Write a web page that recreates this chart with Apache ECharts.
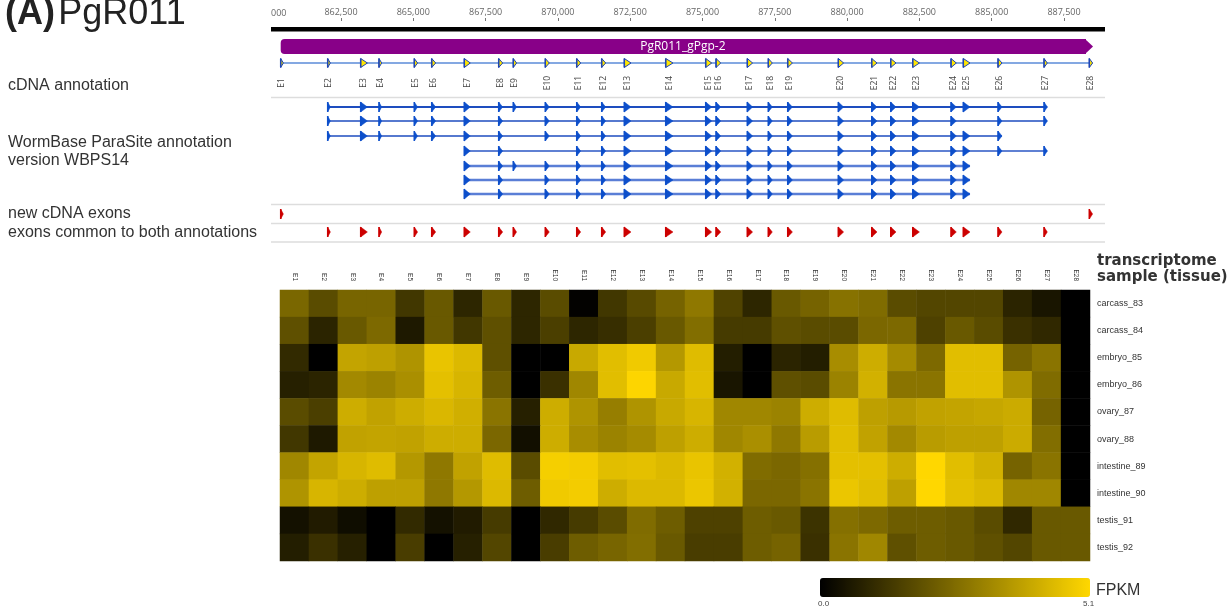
<!DOCTYPE html>
<html><head><meta charset="utf-8">
<script src="https://cdn.jsdelivr.net/npm/echarts@6/dist/echarts.min.js"></script>
<style>html,body{margin:0;padding:0;background:#fff}#c{width:1228px;height:608px}</style>
</head><body><div id="c"></div>
<script>
// ---------- data ----------
const exonNames = ['E1','E2','E3','E4','E5','E6','E7','E8','E9','E10','E11','E12','E13','E14','E15','E16','E17','E18','E19','E20','E21','E22','E23','E24','E25','E26','E27','E28'];
const exonStart = [860415,862040,863181,863814,865035,865637,866764,867953,868458,869565,870651,871515,872297,873728,875111,875468,876550,877276,877947,879697,880852,881509,882270,883594,884019,885219,886810,888376];
const exonEnd   = [860508,862133,863413,863907,865149,865775,866971,868091,868572,869703,870789,871653,872529,873980,875318,875631,876733,877414,878110,879880,881035,881692,882502,883777,884251,885357,886924,888490];
const geneName = 'PgR011_gPgp-2';
const geneStart = 860415, geneEnd = 888504;
const rulerMin = 860080, rulerMax = 888918;
const rulerTicks = [862500,865000,867500,870000,872500,875000,877500,880000,882500,885000,887500];
const transcripts = [
  [2,3,4,5,6,7,8,9,10,11,12,13,14,15,16,17,18,19,20,21,22,23,24,25,26,27],
  [2,3,4,5,6,7,8,10,11,12,13,14,15,16,17,18,19,20,21,22,23,24,26,27],
  [2,3,4,5,6,7,8,10,11,12,13,14,15,16,17,18,19,20,21,22,23,24,25,26],
  [7,8,11,12,13,14,15,16,17,18,19,20,21,22,23,24,25,26,27],
  [7,8,9,10,11,12,13,14,15,16,17,18,19,20,21,22,23,24,25],
  [7,8,10,11,12,13,14,15,16,17,18,19,20,21,22,23,24,25],
  [7,8,10,11,12,13,14,15,16,17,18,19,20,21,22,23,24,25]
];
const newExons = [1,28];
const commonExons = [2,3,4,5,6,7,8,9,10,11,12,13,14,15,16,17,18,19,20,21,22,23,24,25,26,27];
const samples = ['carcass_83','carcass_84','embryo_85','embryo_86','ovary_87','ovary_88','intestine_89','intestine_90','testis_91','testis_92'];
const fpkm = [
  [2.44,1.8,2.4,2.4,1.3,2.1,0.9,2.1,0.9,1.8,0.05,1.3,1.75,2.35,2.85,1.6,0.9,2.1,2.35,2.7,2.55,1.8,1.65,1.65,1.65,0.85,0.5,0],
  [1.9,0.85,2.1,2.5,0.6,2.1,1.3,1.9,0.9,1.5,0.9,1.1,1.5,2.1,2.6,1.4,1.4,1.9,1.8,1.8,2.45,2.5,1.55,2.1,1.8,1.15,0.95,0],
  [1.0,0,3.9,3.8,3.5,4.65,4.4,1.9,0,0,4.0,4.5,4.8,3.6,4.45,0.7,0,0.85,0.7,3.35,4.1,3.3,2.5,4.5,4.5,2.35,2.75,0],
  [0.75,0.85,3.25,3.1,3.4,4.55,4.3,2.2,0,1.15,3.2,4.5,5.05,4.0,4.5,0.5,0,1.9,1.8,3.1,4.2,2.75,2.75,4.5,4.5,3.5,2.55,0],
  [1.8,1.5,4.1,3.85,4.1,4.35,4.15,2.75,0.75,4.1,3.5,3.0,3.5,4.0,4.3,3.2,3.2,3.1,4.1,4.45,3.8,3.65,3.85,3.9,3.95,4.05,2.35,0],
  [1.3,0.6,3.85,3.9,3.85,4.1,4.1,2.45,0.35,4.1,3.35,3.1,3.3,3.8,4.1,3.2,3.4,2.85,3.7,4.5,3.85,3.25,3.7,3.8,3.8,4.05,2.6,0],
  [3.2,3.9,4.3,4.45,3.6,2.85,3.85,4.45,1.8,4.9,4.85,4.5,4.55,4.4,4.65,4.2,2.55,2.45,2.65,4.55,4.55,4.1,5.1,4.5,4.2,2.35,2.75,0],
  [3.5,4.3,4.1,3.8,3.8,2.85,3.6,4.4,2.2,4.8,4.85,4.1,4.4,4.4,4.7,4.2,2.45,2.45,2.75,4.7,4.5,3.8,5.1,4.55,4.4,3.2,3.2,0],
  [0.4,0.65,0.3,0,1.0,0.4,0.65,1.4,0,0.95,1.4,1.8,2.55,2.2,1.55,1.55,2.2,2.1,1.2,2.65,2.5,2.2,2.2,2.1,1.8,0.95,2.1,2.1],
  [0.7,1.15,0.75,0,1.45,0,0.75,1.65,0,1.45,2.2,2.4,2.6,2.1,1.45,1.45,2.2,2.35,1.15,2.75,3.2,1.9,2.2,2.1,1.9,1.65,2.1,2.1]
];
const fpkmMin = 0, fpkmMax = 5.1;

// ---------- layout / style ----------
const ROW_Y = [63,107,121,136,151,166,180,194,214,232];
const ROW_STYLE = [
  {fill:'#FFE600', stroke:'#1F45B5', h:9, lw:1},
  {fill:'#0D4FCB', stroke:'#0D4FCB', h:10, lw:0.5},
  {fill:'#0D4FCB', stroke:'#0D4FCB', h:10, lw:0.5},
  {fill:'#0D4FCB', stroke:'#0D4FCB', h:10, lw:0.5},
  {fill:'#0D4FCB', stroke:'#0D4FCB', h:10, lw:0.5},
  {fill:'#0D4FCB', stroke:'#0D4FCB', h:10, lw:0.5},
  {fill:'#0D4FCB', stroke:'#0D4FCB', h:10, lw:0.5},
  {fill:'#0D4FCB', stroke:'#0D4FCB', h:10, lw:0.5},
  {fill:'#CC0000', stroke:'#CC0000', h:10, lw:0.5},
  {fill:'#CC0000', stroke:'#CC0000', h:10, lw:0.5}
];
const LINE_STYLE = [
  {c:'#5B8BD9', w:1.5},
  {c:'#1E4DBF', w:2},{c:'#1E4DBF', w:1.5},{c:'#1E4DBF', w:1.5},{c:'#2A56C4', w:1.5},
  {c:'#5A7ED6', w:2.5},{c:'#5A7ED6', w:2.5},{c:'#5A7ED6', w:2.5}
];
const SANS = 'Liberation Sans, Arial, sans-serif';

// ---------- build series data ----------
const lineData = [[exonStart[0], exonEnd[exonEnd.length-1], 0]];
transcripts.forEach((t, i) => lineData.push([exonStart[t[0]-1], exonEnd[t[t.length-1]-1], i+1]));
const markerData = [];
exonNames.forEach((n, k) => markerData.push([exonStart[k], exonEnd[k], 0]));
transcripts.forEach((t, i) => t.forEach(e => markerData.push([exonStart[e-1], exonEnd[e-1], i+1])));
newExons.forEach(e => markerData.push([exonStart[e-1], exonEnd[e-1], 8]));
commonExons.forEach(e => markerData.push([exonStart[e-1], exonEnd[e-1], 9]));
const labelData = exonNames.map((n, k) => [exonStart[k], exonEnd[k], k]);
const heatData = [];
samples.forEach((s, i) => fpkm[i].forEach((v, j) => heatData.push([j, i, v])));

const fmt = v => String(v).replace(/\B(?=(\d{3})+(?!\d))/g, ',');

const chart = echarts.init(document.getElementById('c'), null, {renderer:'canvas'});
chart.setOption({
  animation:false,
  backgroundColor:'#fff',
  grid:[
    {left:271, right:123, top:21, height:220},
    {left:280, top:290, width:810, height:271}
  ],
  xAxis:[
    {type:'value', gridIndex:0, position:'top', min:rulerMin, max:rulerMax,
     axisLine:{show:false, onZero:false}, splitLine:{show:false},
     axisTick:{show:true, length:3, customValues:rulerTicks, lineStyle:{color:'#777'}},
     axisLabel:{customValues:rulerTicks, formatter:fmt, margin:4, fontSize:9, color:'#666', fontFamily:'Open Sans'}},
    {type:'category', gridIndex:1, position:'top', data:exonNames,
     axisLine:{show:false}, axisTick:{show:false},
     axisLabel:{rotate:90, fontSize:6.5, margin:9, color:'#333', fontFamily:SANS}}
  ],
  yAxis:[
    {type:'value', gridIndex:0, min:0, max:1, show:false},
    {type:'category', gridIndex:1, position:'right', inverse:true, data:samples,
     axisLine:{show:false}, axisTick:{show:false},
     axisLabel:{fontSize:9, margin:7, color:'#333', fontFamily:SANS}}
  ],
  visualMap:{type:'continuous', seriesIndex:4, min:fpkmMin, max:fpkmMax, orient:'horizontal',
    left:820, top:578, itemWidth:19, itemHeight:270, calculable:false, padding:0,
    inRange:{color:['#000000','#FFD700']}, textStyle:{fontSize:1, color:'rgba(0,0,0,0)'}},
  series:[
    { // gene body
      type:'custom', xAxisIndex:0, yAxisIndex:0, data:[[geneStart, geneEnd]], encode:{x:[0,1]},
      renderItem:(p, api) => {
        const x0 = api.coord([api.value(0),0])[0], x1 = api.coord([api.value(1),0])[0];
        const y0 = 39, y1 = 54, tip = 8;
        return {type:'group', children:[
          {type:'rect', shape:{x:x0, y:y0, width:x1-tip-x0+1, height:y1-y0, r:[4,0,0,4]}, style:{fill:'#880088'}},
          {type:'polygon', shape:{points:[[x1-tip,y0],[x1,(y0+y1)/2],[x1-tip,y1]]}, style:{fill:'#880088'}},
          {type:'text', x:(x0+x1-tip)/2, y:(y0+y1)/2, style:{text:geneName, fill:'#fff', fontSize:12, fontFamily:'Open Sans', align:'center', verticalAlign:'middle'}}
        ]};
      }
    },
    { // intron lines
      type:'custom', xAxisIndex:0, yAxisIndex:0, data:lineData, encode:{x:[0,1]},
      renderItem:(p, api) => {
        const x0 = api.coord([api.value(0),0])[0], x1 = api.coord([api.value(1),0])[0];
        const r = api.value(2), y = ROW_Y[r], s = LINE_STYLE[r];
        return {type:'line', shape:{x1:x0, y1:y, x2:x1, y2:y}, style:{stroke:s.c, lineWidth:s.w}};
      }
    },
    { // exon markers
      type:'custom', xAxisIndex:0, yAxisIndex:0, data:markerData, encode:{x:[0,1]},
      renderItem:(p, api) => {
        const x0 = api.coord([api.value(0),0])[0];
        let x1 = api.coord([api.value(1),0])[0];
        if (x1 - x0 < 2.5) x1 = x0 + 2.5;
        const r = api.value(2), y = ROW_Y[r], s = ROW_STYLE[r], h = s.h;
        return {type:'group', children:[
          {type:'polygon', shape:{points:[[x0,y-h/2],[x1,y],[x0,y+h/2]]}, style:{fill:s.fill, stroke:s.stroke, lineWidth:s.lw}},
          {type:'line', shape:{x1:x0, y1:y-h/2, x2:x0, y2:y+h/2}, style:{stroke:s.stroke, lineWidth:1.5}}
        ]};
      }
    },
    { // exon labels
      type:'custom', xAxisIndex:0, yAxisIndex:0, data:labelData, encode:{x:[0,1]},
      renderItem:(p, api) => {
        const x0 = api.coord([api.value(0),0])[0], x1 = api.coord([api.value(1),0])[0];
        return {type:'text', x:(x0+x1)/2, y:83, rotation:Math.PI/2,
          style:{text:exonNames[api.value(2)], fill:'#444', fontSize:8.5, fontFamily:'Open Sans', align:'center', verticalAlign:'middle'}};
      }
    },
    {type:'heatmap', xAxisIndex:1, yAxisIndex:1, data:heatData, itemStyle:{borderWidth:0}}
  ],
  graphic:[
    {type:'text', left:5, top:-4, style:{text:'{b|(A)} {r|PgR011}', rich:{
      b:{fontSize:36, fontWeight:'bold', fontFamily:SANS, fill:'#222'},
      r:{fontSize:36, fontFamily:SANS, fill:'#222'}}}},
    {type:'text', x:271, y:13, style:{text:'000', fontSize:9, fontFamily:'Open Sans', fill:'#666', verticalAlign:'middle'}},
    {type:'rect', shape:{x:271, y:27, width:834, height:4.5}, style:{fill:'#000'}},
    {type:'line', shape:{x1:271, y1:97.5, x2:1105, y2:97.5}, style:{stroke:'#ddd', lineWidth:1.5}},
    {type:'line', shape:{x1:271, y1:204.5, x2:1105, y2:204.5}, style:{stroke:'#ddd', lineWidth:1.5}},
    {type:'line', shape:{x1:271, y1:223.5, x2:1105, y2:223.5}, style:{stroke:'#ddd', lineWidth:1.5}},
    {type:'line', shape:{x1:271, y1:242, x2:1105, y2:242}, style:{stroke:'#ddd', lineWidth:1.5}},
    {type:'text', x:8, y:86, style:{text:'cDNA annotation', fontSize:16, fontFamily:SANS, fill:'#333', verticalAlign:'middle'}},
    {type:'text', x:8, y:143, style:{text:'WormBase ParaSite annotation', fontSize:16, fontFamily:SANS, fill:'#333', verticalAlign:'middle'}},
    {type:'text', x:8, y:161, style:{text:'version WBPS14', fontSize:16, fontFamily:SANS, fill:'#333', verticalAlign:'middle'}},
    {type:'text', x:8, y:214, style:{text:'new cDNA exons', fontSize:16, fontFamily:SANS, fill:'#333', verticalAlign:'middle'}},
    {type:'text', x:8, y:233, style:{text:'exons common to both annotations', fontSize:16, fontFamily:SANS, fill:'#333', verticalAlign:'middle'}},
    {type:'text', x:1097, y:261, style:{text:'transcriptome', fontSize:15, fontWeight:'bold', fontFamily:'DejaVu Sans', fill:'#333', verticalAlign:'middle'}},
    {type:'text', x:1097, y:277, style:{text:'sample (tissue)', fontSize:15, fontWeight:'bold', fontFamily:'DejaVu Sans', fill:'#333', verticalAlign:'middle'}},
    {type:'text', x:1096, y:591, style:{text:'FPKM', fontSize:16, fontFamily:SANS, fill:'#333', verticalAlign:'middle'}},
    {type:'text', x:818, y:604, style:{text:fpkmMin.toFixed(1), fontSize:8, fontFamily:SANS, fill:'#444', verticalAlign:'middle'}},
    {type:'text', x:1083, y:604, style:{text:fpkmMax.toFixed(1), fontSize:8, fontFamily:SANS, fill:'#444', verticalAlign:'middle'}}
  ]
});
</script></body></html>
